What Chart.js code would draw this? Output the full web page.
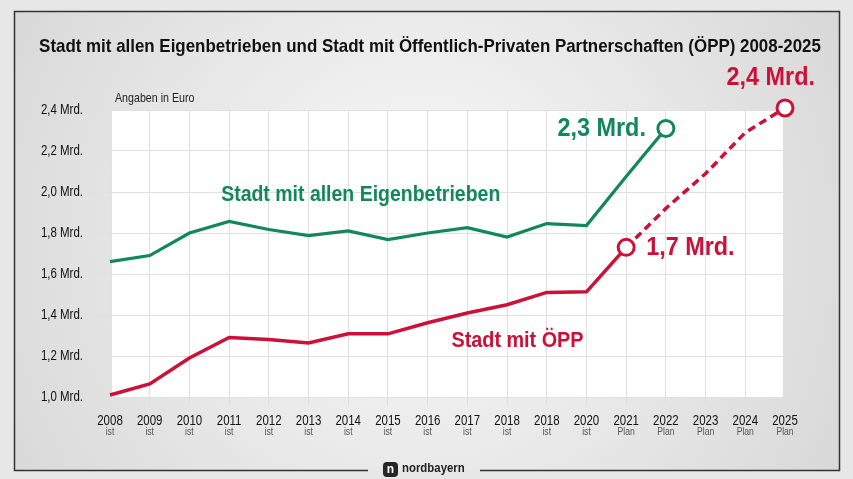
<!DOCTYPE html>
<html><head><meta charset="utf-8">
<script src="https://cdn.jsdelivr.net/npm/chart.js@4"></script>
<style>html,body{margin:0;padding:0;background:#e7e7e7;}canvas{display:block}</style>
</head><body>
<canvas id="c" width="853" height="479"></canvas>
<script>
const years = ['2008','2009','2010','2011','2012','2013','2014','2015','2016','2017','2018','2018','2020','2021','2022','2023','2024','2025'];
const phases = ['ist','ist','ist','ist','ist','ist','ist','ist','ist','ist','ist','ist','ist','Plan','Plan','Plan','Plan','Plan'];
const eigenbetriebe = [1.66,1.69,1.80,1.856,1.817,1.787,1.81,1.768,1.80,1.826,1.78,1.846,1.836,2.076,2.31,null,null,null];
const oepp = [1.01,1.064,1.19,1.29,1.28,1.264,1.308,1.308,1.362,1.41,1.45,1.51,1.513,1.73,1.92,2.09,2.29,2.41];
const yMin = 1.0, yMax = 2.4, yStep = 0.2;
const title = 'Stadt mit allen Eigenbetrieben und Stadt mit Öffentlich-Privaten Partnerschaften (ÖPP) 2008-2025';

const GREEN = '#12885a', RED = '#cc1038';
const FONT = "Arial,'Liberation Sans',sans-serif";
const greenMarker = 14, redMarkers = [13, 17], planStart = 13;
const yLabel = v => v.toFixed(1).replace('.', ',') + ' Mrd.';

function txt(ctx, s, x, y, align, sx) {
  ctx.save();
  ctx.translate(x, y); ctx.scale(sx, 1);
  ctx.textAlign = align; ctx.textBaseline = 'middle';
  ctx.fillText(s, 0, 0);
  ctx.restore();
}

const bgPlugin = {
  id: 'bg',
  beforeDraw(chart) {
    const {ctx, chartArea: a} = chart;
    ctx.save();
    ctx.fillStyle = '#e7e7e7'; ctx.fillRect(0, 0, 853, 479);
    const g = ctx.createRadialGradient(420, 230, 40, 420, 250, 520);
    g.addColorStop(0, '#f7f7f7'); g.addColorStop(1, '#d5d5d5');
    ctx.fillStyle = g; ctx.fillRect(14, 11, 826, 460);
    ctx.fillStyle = '#ffffff';
    ctx.fillRect(a.left + 2, a.top, a.right - a.left - 4, a.bottom - a.top);
    ctx.restore();
  },
  afterDraw(chart) {
    const {ctx} = chart;
    const xs = chart.scales.x, ys = chart.scales.y;
    ctx.save();
    // frame
    ctx.strokeStyle = '#333'; ctx.lineWidth = 1.5;
    ctx.beginPath();
    ctx.moveTo(368, 470.5); ctx.lineTo(14.5, 470.5); ctx.lineTo(14.5, 11.5);
    ctx.lineTo(839.5, 11.5); ctx.lineTo(839.5, 470.5); ctx.lineTo(480, 470.5);
    ctx.stroke();
    // title
    ctx.fillStyle = '#111';
    ctx.font = "bold 19px " + FONT;
    txt(ctx, title, 430, 47, 'center', 0.89);
    // unit
    ctx.font = "13px " + FONT; ctx.fillStyle = '#222';
    txt(ctx, 'Angaben in Euro', 115, 98, 'left', 0.82);
    // y tick labels
    ctx.font = "14px " + FONT; ctx.fillStyle = '#111';
    ys.ticks.forEach((t, i) => txt(ctx, yLabel(t.value), 83, ys.getPixelForTick(i), 'right', 0.82));
    // x tick labels
    xs.ticks.forEach((t, i) => txt(ctx, years[i], xs.getPixelForTick(i), 421, 'center', 0.82));
    ctx.font = "10.5px " + FONT; ctx.fillStyle = '#555';
    phases.forEach((p, i) => txt(ctx, p, xs.getPixelForValue(i), 432, 'center', 0.82));
    // annotations
    ctx.font = "bold 22px " + FONT;
    ctx.fillStyle = GREEN;
    txt(ctx, 'Stadt mit allen Eigenbetrieben', xs.getPixelForValue(2.8), ys.getPixelForValue(1.985), 'left', 0.885);
    ctx.fillStyle = RED;
    txt(ctx, 'Stadt mit ÖPP', xs.getPixelForValue(8.6), ys.getPixelForValue(1.275), 'left', 0.9);
    ctx.font = "bold 26px " + FONT;
    ctx.fillStyle = GREEN;
    txt(ctx, '2,3 Mrd.', xs.getPixelForValue(greenMarker) - 20, ys.getPixelForValue(eigenbetriebe[greenMarker]), 'right', 0.9);
    ctx.fillStyle = RED;
    txt(ctx, '1,7 Mrd.', xs.getPixelForValue(redMarkers[0]) + 20, ys.getPixelForValue(oepp[redMarkers[0]]), 'left', 0.9);
    txt(ctx, '2,4 Mrd.', xs.getPixelForValue(redMarkers[1]) + 30, ys.getPixelForValue(oepp[redMarkers[1]]) - 30, 'right', 0.9);
    // logo
    ctx.fillStyle = '#262626';
    ctx.beginPath(); ctx.roundRect(383, 462, 15, 15, 4); ctx.fill();
    ctx.fillStyle = '#fff'; ctx.font = "bold 12px " + FONT;
    txt(ctx, 'n', 390.5, 469.5, 'center', 1);
    ctx.fillStyle = '#222'; ctx.font = "bold 12px " + FONT;
    txt(ctx, 'nordbayern', 402, 469, 'left', 0.95);
    ctx.restore();
  }
};

const ptRadius = (arr, idx) => arr.map((_, i) => idx.includes(i) ? 8 : 0);

new Chart(document.getElementById('c'), {
  type: 'line',
  data: {
    labels: years,
    datasets: [
      {
        label: 'Stadt mit allen Eigenbetrieben', data: eigenbetriebe,
        borderColor: GREEN, borderWidth: 3.2, tension: 0,
        pointRadius: ptRadius(eigenbetriebe, [greenMarker]), pointBorderWidth: 3,
        pointBackgroundColor: '#fff', pointBorderColor: GREEN, pointHoverRadius: 8
      },
      {
        label: 'Stadt mit ÖPP', data: oepp,
        borderColor: RED, borderWidth: 3.5, tension: 0,
        segment: { borderDash: c => c.p0DataIndex >= planStart ? [8, 5] : undefined },
        pointRadius: ptRadius(oepp, redMarkers), pointBorderWidth: 3,
        pointBackgroundColor: '#fff', pointBorderColor: RED, pointHoverRadius: 8
      }
    ]
  },
  options: {
    responsive: false, animation: false, devicePixelRatio: 1,
    clip: false,
    layout: { padding: { left: 0, right: 68, top: 110, bottom: 0 } },
    plugins: { legend: { display: false }, tooltip: { enabled: false } },
    scales: {
      x: {
        type: 'category', offset: false,
        grid: { color: '#e0e0e0', lineWidth: 1, tickLength: 8, drawOnChartArea: true },
        border: { display: false },
        ticks: { autoSkip: false, maxRotation: 0, color: 'rgba(0,0,0,0)', font: { family: FONT, size: 14 }, padding: 4 },
        afterFit(s) { s.height = 82; }
      },
      y: {
        min: yMin, max: yMax,
        grid: { color: '#e0e0e0', lineWidth: 1, tickLength: 20 },
        border: { display: false },
        ticks: {
          stepSize: yStep, color: 'rgba(0,0,0,0)', padding: 7,
          font: { family: FONT, size: 14 },
          callback: yLabel
        },
        afterFit(s) { s.width = 110; }
      }
    }
  },
  plugins: [bgPlugin]
});
</script>
</body></html>
